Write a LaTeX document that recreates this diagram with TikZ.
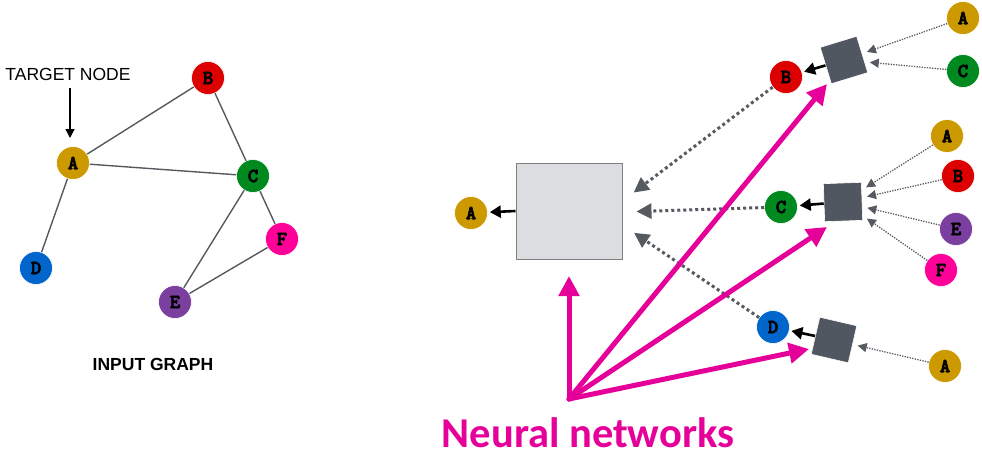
\documentclass[tikz,border=0pt]{standalone}
\usepackage{fontspec}
\setmainfont{Liberation Sans}
\newfontfamily\nnfont{Carlito}
\newfontfamily\lblmono{lmmonolt10-bold.otf}[FakeBold=3]
\usetikzlibrary{arrows.meta,calc}
\definecolor{cA}{HTML}{CC9900}
\definecolor{cB}{HTML}{DD0000}
\definecolor{cC}{HTML}{00891E}
\definecolor{cD}{HTML}{0066CC}
\definecolor{cE}{HTML}{7B3FA0}
\definecolor{cF}{HTML}{FF0099}
\definecolor{pinkarr}{HTML}{E6009A}
\definecolor{sqgray}{HTML}{515761}
\definecolor{edgegray}{HTML}{555A60}
\definecolor{boxfill}{HTML}{DCDDE0}
\tikzset{
  gnode/.style={circle,draw=white,line width=0.6pt,minimum size=33pt,inner sep=0pt,font=\lblmono\fontsize{20}{20}\selectfont},
  sq/.style={draw=white,line width=0.6pt,fill=sqgray,minimum size=38pt,inner sep=0pt},
  gedge/.style={draw=edgegray,line width=1.4pt},
  dotarr/.style={draw=edgegray,line width=1.3pt,dash pattern=on 1.3pt off 1.3pt,-{Triangle[length=9pt,width=9pt]},shorten >=5pt},
  bigdot/.style={draw=edgegray,line width=3pt,dash pattern=on 3pt off 3pt,-{Triangle[length=15pt,width=15pt]},shorten >=14pt},
  blkarr/.style={draw=black,line width=2.6pt,-{Triangle[length=11pt,width=12pt]},shorten >=2pt},
  pinkar/.style={draw=pinkarr,line width=5pt,line cap=round,-{Triangle[length=20pt,width=20pt]}}
}
\begin{document}
\begin{tikzpicture}[x=1pt,y=-1pt]
\useasboundingbox (0,0) rectangle (982,460);
% ---------- left input graph
\node[gnode,fill=cB] (gB) at (208,78) {B};
\node[gnode,fill=cA] (gA) at (73,163) {A};
\node[gnode,fill=cC] (gC) at (253,176) {C};
\node[gnode,fill=cF] (gF) at (282,239) {F};
\node[gnode,fill=cD] (gD) at (36,268) {D};
\node[gnode,fill=cE] (gE) at (175,302) {E};
\draw[gedge] (gA) -- (gB);
\draw[gedge] (gA) -- (gC);
\draw[gedge] (gB) -- (gC);
\draw[gedge] (gA) -- (gD);
\draw[gedge] (gC) -- (gE);
\draw[gedge] (gC) -- (gF);
\draw[gedge] (gE) -- (gF);
\node[font=\fontsize{17.5}{17.5}\selectfont] (tgt) at (68,74) {TARGET NODE};
\coordinate (tgtend) at (70,138);
\draw[line width=1.3pt,-{Triangle[length=9pt,width=9pt]}] (70,88) -- (tgtend);
\node[font=\bfseries\fontsize{17.5}{17.5}\selectfont] (ig) at (153,364) {INPUT GRAPH};
% ---------- right: aggregation
\node[draw=gray,line width=1pt,fill=boxfill,minimum width=106pt,minimum height=96pt,inner sep=0pt] (box) at (569,211) {};
\node[gnode,fill=cA] (rA) at (471,213) {A};
\draw[blkarr] (box.west) -- (rA);
% top group
\node[gnode,fill=cB] (nB) at (786,77) {B};
\node[sq,rotate=17] (s1) at (844,60) {};
\node[gnode,fill=cA] (t1A) at (963,18) {A};
\node[gnode,fill=cC] (t1C) at (963,71) {C};
\draw[dotarr] (t1A) -- (s1);
\draw[dotarr] (t1C) -- (s1);
\draw[blkarr] (s1) -- (nB);
% middle group
\node[gnode,fill=cC] (nC) at (781,207) {C};
\node[sq,rotate=2] (s2) at (843,202) {};
\node[gnode,fill=cA] (t2A) at (947,136) {A};
\node[gnode,fill=cB] (t2B) at (958,176) {B};
\node[gnode,fill=cE] (t2E) at (956,229) {E};
\node[gnode,fill=cF] (t2F) at (941,270) {F};
\draw[dotarr] (t2A) -- (s2);
\draw[dotarr] (t2B) -- (s2);
\draw[dotarr] (t2E) -- (s2);
\draw[dotarr] (t2F) -- (s2);
\draw[blkarr] (s2) -- (nC);
% bottom group
\node[gnode,fill=cD] (nD) at (773,327) {D};
\node[sq,rotate=-13] (s3) at (834,340) {};
\node[gnode,fill=cA] (t3A) at (945,366) {A};
\draw[dotarr] (t3A) -- (s3);
\draw[blkarr] (s3) -- (nD);
% big dotted arrows into box
\coordinate (bx1) at ($(box.east)+(0,-10)$);
\coordinate (bx2) at ($(box.east)+(0,1)$);
\coordinate (bx3) at ($(box.east)+(0,14)$);
\draw[bigdot] (nB) -- (bx1);
\draw[bigdot] (nC) -- (bx2);
\draw[bigdot] (nD) -- (bx3);
% pink neural network arrows
\coordinate (nn) at (569,399);
\coordinate (p0) at (569,276);
\coordinate (p1) at (827,84);
\coordinate (p2) at (827,227);
\coordinate (p3) at (809,349);
\draw[pinkar] (nn) -- (p0);
\draw[pinkar] (nn) -- (p1);
\draw[pinkar] (nn) -- (p2);
\draw[pinkar] (nn) -- (p3);
\node[text=pinkarr,font=\nnfont\bfseries\fontsize{42.5}{42.5}\selectfont] (nnt) at (588,433) {Neural networks};
\end{tikzpicture}
\end{document}
